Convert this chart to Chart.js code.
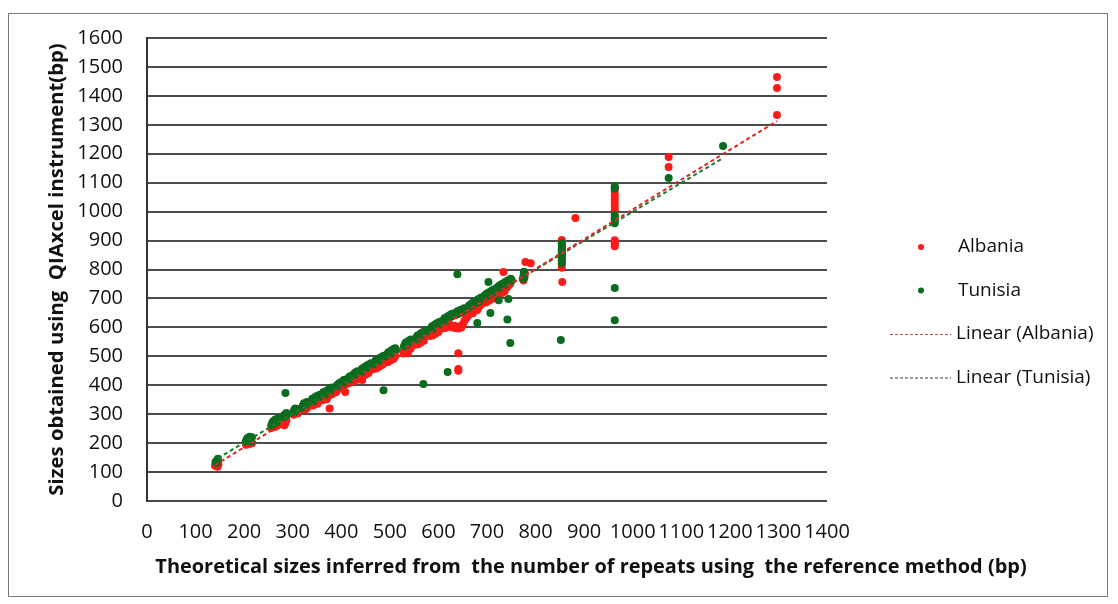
<!DOCTYPE html>
<html>
<head>
<meta charset="utf-8">
<script src="https://cdn.jsdelivr.net/npm/chart.js@4/dist/chart.umd.min.js"></script>
<style>
  html, body { margin: 0; padding: 0; background: #fff; }
  #wrap { position: relative; width: 1118px; height: 604px; }
  #frame { position: absolute; left: 8px; top: 13px; width: 1100px; height: 584px; border: 1px solid #7a7a7a; box-sizing: border-box; }
  canvas { position: absolute; left: 0; top: 0; }
</style>
</head>
<body>
<div id="wrap">
  <div id="frame"></div>
  <canvas id="scatterChart" width="1118" height="604"></canvas>
</div>
<script>
// axis ticks
var xTicks = [0, 100, 200, 300, 400, 500, 600, 700, 800, 900, 1000, 1100, 1200, 1300, 1400];
var yTicks = [0, 100, 200, 300, 400, 500, 600, 700, 800, 900, 1000, 1100, 1200, 1300, 1400, 1500, 1600];

// Albania: [theoretical size, QIAxcel size] (bp)
var albaniaPoints = [
  [140,122],[142,128],[145,118],[147,126],
  [204,194],[206,200],[208,196],[210,204],[212,198],[214,206],[216,200],
  [256,252],[258,258],[261,264],[263,256],[265,262],[268,260],[270,266],
  [283,262],[285,270],[287,278],
  [302,298],[305,304],[308,310],[310,302],
  [322,316],[325,322],[328,318],[331,326],
  [342,330],[345,336],[348,342],[351,336],[354,346],
  [361,348],[364,354],[367,358],[370,352],[373,362],[376,320],
  [380,368],[383,374],[386,380],[389,376],[392,384],
  [397,390],[400,396],[403,392],[406,400],[408,377],[411,404],
  [416,408],[419,414],[422,410],[425,420],[428,416],[431,424],[434,420],[443,418],
  [444,434],[447,440],[450,436],[453,446],[456,442],[459,452],
  [466,456],[469,462],[472,458],[475,468],[478,464],[481,474],[484,470],
  [490,478],[493,484],[496,480],[499,490],[502,486],[505,496],[508,492],[511,500],
  [528,510],[531,516],[534,522],[537,511],[540,530],[543,526],
  [552,540],[555,546],[558,542],[561,552],[564,548],[567,558],[570,554],
  [582,570],[585,576],[588,572],[591,582],[594,578],[597,588],[600,584],
  [608,596],[611,602],[614,598],[617,606],[620,602],[623,610],[626,604],[629,600],[632,606],
  [635,598],[638,602],[641,596],[644,604],[647,600],[650,610],[653,620],[656,630],[659,636],
  [641,511],[641,456],[641,450],
  [662,642],[665,648],[668,654],[671,650],[674,658],[677,664],[680,660],[683,670],[686,676],
  [692,684],[695,690],[698,686],[701,696],[704,692],[707,702],[710,698],[713,706],
  [718,710],[721,716],[724,712],[727,722],[730,718],[733,728],[736,724],[739,734],[742,740],[745,746],[748,752],[734,791],
  [775,762],[776,770],[777,778],[778,786],[779,826],[790,822],
  [854,806],[854,818],[854,830],[854,842],[854,854],[854,866],[854,878],[854,890],[854,902],[855,757],
  [882,978],
  [963,880],[963,887],[963,894],[963,901],[963,1005],[963,1017],[963,1030],[963,1043],[963,1056],[963,1069],[963,1082],
  [1074,1154],[1074,1189],
  [1297,1334],[1297,1427],[1297,1465]
];

// Tunisia: [theoretical size, QIAxcel size] (bp)
var tunisiaPoints = [
  [141,135],[144,140],[146,146],[143,131],
  [203,205],[205,212],[207,218],[209,208],[211,222],[213,214],[215,206],[216,220],
  [256,262],[258,270],[260,276],[262,266],[264,282],[266,272],[268,278],[270,286],
  [281,290],[283,298],[285,293],[287,304],[289,300],
  [301,306],[303,314],[305,320],[307,310],[309,318],
  [319,322],[321,330],[323,338],[325,326],[327,334],[329,342],[331,338],
  [337,340],[339,348],[341,354],[343,344],[345,352],[347,360],[349,356],[351,364],[353,358],[355,366],
  [359,362],[361,370],[363,376],[365,366],[367,374],[369,380],[371,372],[373,382],[375,388],[377,378],[379,386],[381,392],
  [389,392],[391,400],[393,396],[395,406],[397,400],[399,410],[401,404],[403,412],[405,418],[407,410],[409,420],
  [413,416],[415,424],[417,430],[419,422],[421,432],[423,428],[425,438],[427,434],[429,444],[431,440],[433,448],
  [439,444],[441,452],[443,458],[445,448],[447,456],[449,464],[451,460],[453,468],[455,462],[457,472],[459,468],[461,476],
  [467,472],[469,480],[471,486],[473,478],[475,488],[477,482],[479,494],[481,488],[483,498],[485,492],[487,502],
  [493,500],[495,508],[497,514],[499,504],[501,512],[503,520],[505,514],[507,524],[509,518],[511,528],[513,522],
  [529,534],[531,542],[533,548],[535,538],[537,546],[539,554],[541,550],[543,558],[545,552],
  [553,558],[555,566],[557,572],[559,562],[561,570],[563,578],[565,574],[567,582],[569,576],[571,586],[573,580],[575,590],
  [583,590],[585,598],[587,604],[589,594],[591,602],[593,610],[595,606],[597,614],[599,608],[601,618],[603,612],[605,620],
  [609,618],[611,626],[613,632],[615,622],[617,630],[619,638],[621,634],[623,642],[625,636],[627,646],[629,640],[631,648],
  [635,642],[637,650],[639,656],[641,646],[643,654],[645,660],[647,652],[649,662],[651,658],[653,666],[655,662],
  [661,668],[663,676],[665,672],[667,680],[669,676],[671,686],[673,680],[675,690],[677,684],[679,694],[681,688],[683,698],[685,692],[687,702],
  [693,702],[695,710],[697,706],[699,716],[701,710],[703,720],[705,714],[707,724],[709,718],[711,728],[713,722],[715,732],
  [719,730],[721,738],[723,734],[725,744],[727,738],[729,748],[731,742],[733,752],[735,746],[737,756],[739,750],[741,760],[743,754],[745,764],[747,758],[749,768],[751,762],
  [774,768],[775,776],[776,784],[776,792],[777,772],
  [854,822],[854,832],[854,842],[854,852],[854,862],[854,872],[854,882],[854,892],
  [963,960],[963,968],[963,975],[963,982],[963,988],[963,1080],[963,1088],
  [1074,1116],[1186,1227],
  [285,373],[487,383],[569,404],[619,446],[748,546],[852,556],[963,736],[963,625],
  [742,627],[680,615],[707,650],[639,784],[703,757],[744,698],[724,694]
];

// linear trend lines (end points)
var albaniaTrend = [[140,124],[1297,1313]];
var tunisiaTrend = [[146,148],[1186,1185]];

var seriesNames = ['Albania', 'Tunisia', 'Linear (Albania)', 'Linear (Tunisia)'];
var xTitle = 'Theoretical sizes inferred from  the number of repeats using  the reference method (bp)';
var yTitle = 'Sizes obtained using  QIAxcel instrument(bp)';

function toPoints(pairs) {
    return pairs.map(function(p) { return { x: p[0], y: p[1] }; });
}

var fontFamily = '"Open Sans", Lato, sans-serif';

// legend to the right of the plot and the x title centred on the whole figure, Excel style
var excelExtras = {
    id: 'excelExtras',
    afterDraw: function(chart) {
        var ctx = chart.ctx;
        var area = chart.chartArea;
        var markX = area.right + 94;
        var textX = area.right + 131;
        var y0 = 247, step = 43.5;
        var items = [
            { kind: 'dot', color: '#ff1a1a' },
            { kind: 'dot', color: '#0b6b1f' },
            { kind: 'line', color: '#c0504d' },
            { kind: 'line', color: '#3a3a3a' }
        ];
        ctx.save();
        ctx.font = '19px ' + fontFamily;
        ctx.textBaseline = 'middle';
        ctx.textAlign = 'left';
        items.forEach(function(it, i) {
            var y = y0 + i * step;
            if (it.kind === 'dot') {
                ctx.fillStyle = it.color;
                ctx.beginPath();
                ctx.arc(markX, y, 3, 0, Math.PI * 2);
                ctx.fill();
            } else {
                ctx.strokeStyle = it.color;
                ctx.lineWidth = 1.2;
                ctx.setLineDash([3, 2]);
                ctx.beginPath();
                ctx.moveTo(markX - 31, y + 0.5);
                ctx.lineTo(markX + 30, y + 0.5);
                ctx.stroke();
                ctx.setLineDash([]);
            }
            ctx.fillStyle = '#111';
            ctx.fillText(seriesNames[i], textX - (it.kind === 'line' ? 2 : 0), y);
        });

        // x axis title, spans about 872px in the original
        var size = 20;
        ctx.font = 'bold ' + size + 'px ' + fontFamily;
        var w = ctx.measureText(xTitle).width;
        size = Math.min(22, size * 872 / w);
        ctx.font = 'bold ' + size + 'px ' + fontFamily;
        ctx.textAlign = 'center';
        ctx.fillStyle = '#111';
        ctx.fillText(xTitle, chart.width / 2 + 32, area.bottom + 66);
        ctx.restore();
    }
};

var ctx = document.getElementById('scatterChart').getContext('2d');
var scatterChart = new Chart(ctx, {
    type: 'scatter',
    data: {
        datasets: [{
            label: seriesNames[2],
            data: toPoints(albaniaTrend),
            showLine: true,
            borderColor: '#e3261f',
            borderWidth: 2,
            borderDash: [4, 3],
            pointRadius: 0,
            order: 0
        }, {
            label: seriesNames[3],
            data: toPoints(tunisiaTrend),
            showLine: true,
            borderColor: '#1b7a2c',
            borderWidth: 2,
            borderDash: [4, 3],
            pointRadius: 0,
            order: 0
        }, {
            label: seriesNames[1],
            data: toPoints(tunisiaPoints),
            backgroundColor: '#0b6b1f',
            borderWidth: 0,
            pointRadius: 4,
            order: 1
        }, {
            label: seriesNames[0],
            data: toPoints(albaniaPoints),
            backgroundColor: '#ff1a1a',
            borderWidth: 0,
            pointRadius: 4,
            order: 2
        }]
    },
    options: {
        responsive: false,
        animation: false,
        layout: { padding: { left: 41, top: 38, right: 291, bottom: 20 } },
        plugins: {
            legend: { display: false },
            tooltip: { enabled: false }
        },
        scales: {
            x: {
                type: 'linear',
                min: xTicks[0],
                max: xTicks[xTicks.length - 1],
                afterBuildTicks: function(scale) {
                    scale.ticks = xTicks.map(function(v) { return { value: v }; });
                },
                afterFit: function(scale) { scale.height = 83; },
                grid: { display: false, drawTicks: false },
                border: { display: false },
                ticks: {
                    autoSkip: false,
                    maxRotation: 0,
                    padding: 19,
                    color: '#111',
                    font: { family: fontFamily, size: 20 },
                    callback: function(v) { return String(v); }
                },
                title: { display: false, text: xTitle }
            },
            y: {
                type: 'linear',
                min: yTicks[0],
                max: yTicks[yTicks.length - 1],
                afterBuildTicks: function(scale) {
                    scale.ticks = yTicks.map(function(v) { return { value: v }; });
                },
                afterFit: function(scale) { scale.width = 106; },
                grid: { color: '#4d4d4d', lineWidth: 2, drawTicks: false },
                border: { display: true, color: '#333', width: 2 },
                ticks: {
                    padding: 24,
                    color: '#111',
                    font: { family: fontFamily, size: 20 },
                    callback: function(v) { return String(v); }
                },
                title: {
                    display: true,
                    text: yTitle,
                    color: '#111',
                    font: { family: fontFamily, size: 20.3, weight: 'bold' }
                }
            }
        }
    },
    plugins: [excelExtras]
});
</script>
</body>
</html>
